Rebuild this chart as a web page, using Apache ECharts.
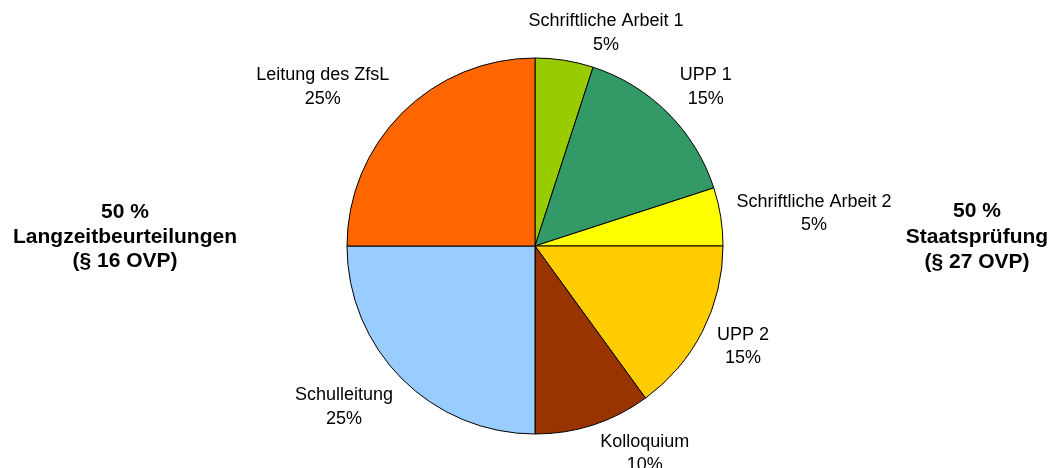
<!DOCTYPE html>
<html>
<head>
<meta charset="utf-8">
<script src="https://cdn.jsdelivr.net/npm/echarts@6/dist/echarts.min.js"></script>
<style>
html,body{margin:0;padding:0;background:#fff;}
#chart{width:1049px;height:468px;}
</style>
</head>
<body>
<div id="chart"></div>
<script>
var CATEGORIES = ['Schriftliche Arbeit 1', 'UPP 1', 'Schriftliche Arbeit 2', 'UPP 2', 'Kolloquium', 'Schulleitung', 'Leitung des ZfsL'];
var VALUES = [5, 15, 5, 15, 10, 25, 25];
var COLORS = ['#99CC00', '#339966', '#FFFF00', '#FFCC00', '#993300', '#99CCFF', '#FF6600'];
var LEFT_TEXT = ['50 %', 'Langzeitbeurteilungen', '(§ 16 OVP)'];
var RIGHT_TEXT = ['50 %', 'Staatsprüfung', '(§ 27 OVP)'];

var CX = 535, CY = 246, R = 188, RX = 192, RY = 184, GAP = 12;
var NUDGE = [[27,4],[8,-4],[1,2],[3,1],[33,-1],[-12,6],[-21,-4]];
var total = VALUES.reduce(function(a,b){return a+b;},0);

var chart = echarts.init(document.getElementById('chart'), null, {renderer:'canvas'});
var data = CATEGORIES.map(function(n,i){
  return {name:n, value:VALUES[i], itemStyle:{color:COLORS[i]}};
});
chart.setOption({
  animation:false,
  backgroundColor:'#ffffff',
  graphic:[
    {type:'text', x:125, y:237, style:{text:LEFT_TEXT.join('\n'), font:'bold 21px "Liberation Sans", Arial, sans-serif', fill:'#000', align:'center', verticalAlign:'middle', lineHeight:24.5}},
    {type:'text', x:977, y:237, style:{text:RIGHT_TEXT.join('\n'), font:'bold 21px "Liberation Sans", Arial, sans-serif', fill:'#000', align:'center', verticalAlign:'middle', lineHeight:25.5}}
  ],
  series:[{
    type:'pie',
    center:[CX, CY],
    radius:R,
    startAngle:90,
    clockwise:true,
    data:data,
    itemStyle:{borderColor:'#000', borderWidth:1},
    emphasis:{disabled:true},
    labelLine:{show:false},
    label:{
      show:true, position:'outside',
      formatter:function(p){return p.name + '\n' + p.value + '%';},
      fontFamily:'"Liberation Sans", Arial, sans-serif', fontSize:18, color:'#000', lineHeight:23.5
    },
    labelLayout:function(p){
      var i = p.dataIndex, before = 0;
      for (var j=0;j<i;j++) before += VALUES[j];
      var mid = (before + VALUES[i]/2)/total*Math.PI*2;
      var s = Math.sin(mid), c = Math.cos(mid);
      var w = p.labelRect.width, h = p.labelRect.height;
      return {
        x: CX + s*(RX + GAP) + s*w/2 + NUDGE[i][0],
        y: CY - c*(RY + GAP) - c*h/2 + NUDGE[i][1],
        align:'center', verticalAlign:'middle'
      };
    }
  }]
});
</script>
</body>
</html>
